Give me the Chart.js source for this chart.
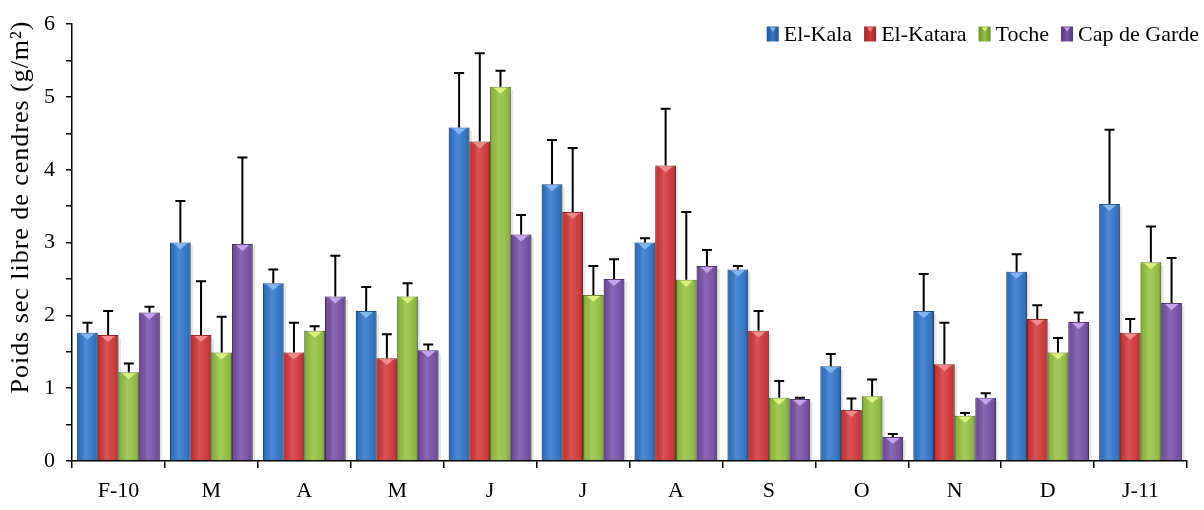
<!DOCTYPE html>
<html><head><meta charset="utf-8">
<script src="https://cdn.jsdelivr.net/npm/chart.js@4.4.1/dist/chart.umd.min.js"></script>
<style>html,body{margin:0;padding:0;background:#fff}#wrap{width:1204px;height:510px;position:relative}</style>
</head><body><div id="wrap"><canvas id="c"></canvas></div>
<script>
// ---- data ----
const categories = ['F-10','M','A','M','J','J','A','S','O','N','D','J-11'];
const seriesNames = ['El-Kala','El-Katara','Toche','Cap de Garde'];
const elKala      = [1.76,3.00,2.44,2.06,4.58,3.80,3.00,2.63,1.30,2.06,2.60,3.53];
const elKalaErr   = [0.14,0.57,0.19,0.33,0.75,0.61,0.06,0.05,0.17,0.51,0.24,1.02];
const elKatara    = [1.73,1.73,1.49,1.41,4.39,3.42,4.06,1.79,0.70,1.33,1.95,1.76];
const elKataraErr = [0.33,0.74,0.41,0.33,1.21,0.88,0.78,0.27,0.16,0.57,0.19,0.19];
const toche       = [1.22,1.49,1.79,2.26,5.14,2.28,2.49,0.87,0.89,0.62,1.49,2.73];
const tocheErr    = [0.12,0.49,0.06,0.18,0.22,0.40,0.93,0.23,0.23,0.04,0.20,0.49];
const capDeGarde    = [2.04,2.98,2.26,1.52,3.11,2.50,2.68,0.85,0.33,0.87,1.91,2.17];
const capDeGardeErr = [0.08,1.19,0.56,0.08,0.27,0.27,0.22,0.02,0.04,0.06,0.13,0.62];
const yTickLabels = [0,1,2,3,4,5,6];
const yTitle = 'Poids sec libre de cendres (g/m²)';

// ---- styles ----
const FONT = "'Liberation Serif', 'Times New Roman', serif";
const colors = ['#3479cc','#d43b3b','#95c244','#7b53aa'];
const edges  = ['#22528f','#9a2525','#6a8f2a','#553779'];
const lights = ['#86bdf5','#f59090','#e0f57e','#cda8f5'];

const values = [elKala, elKatara, toche, capDeGarde];
const errs = [elKalaErr, elKataraErr, tocheErr, capDeGardeErr];

const barStyle = {
  id: 'barStyle',
  beforeDatasetsDraw(chart) {
    const ctx = chart.ctx;
    chart.data.datasets.forEach((ds, di) => {
      chart.getDatasetMeta(di).data.forEach((el) => {
        const p = el.getProps(['x','y','base','width'], true);
        ctx.save();
        ctx.fillStyle = 'rgba(0,0,0,0.10)';
        ctx.fillRect(p.x + p.width/2, p.y + 3, 2.5, p.base - p.y - 3);
        ctx.restore();
      });
    });
  },
  afterDatasetsDraw(chart) {
    const ctx = chart.ctx;
    const yScale = chart.scales.y;
    chart.data.datasets.forEach((ds, di) => {
      const meta = chart.getDatasetMeta(di);
      meta.data.forEach((el, i) => {
        const p = el.getProps(['x','y','base','width'], true);
        const l = p.x - p.width/2, w = p.width, top = p.y, h = p.base - p.y;
        ctx.save();
        const g = ctx.createLinearGradient(l, 0, l + w, 0);
        g.addColorStop(0, 'rgba(0,0,0,0.30)');
        g.addColorStop(0.12, 'rgba(0,0,0,0.05)');
        g.addColorStop(0.40, 'rgba(255,255,255,0.12)');
        g.addColorStop(0.60, 'rgba(255,255,255,0.06)');
        g.addColorStop(0.88, 'rgba(0,0,0,0.06)');
        g.addColorStop(1, 'rgba(0,0,0,0.32)');
        ctx.fillStyle = g;
        ctx.fillRect(l, top, w, h);
        ctx.fillStyle = lights[di];
        ctx.globalAlpha = 0.9;
        ctx.beginPath();
        ctx.moveTo(p.x - w*0.33, top + 1);
        ctx.lineTo(p.x + w*0.33, top + 1);
        ctx.lineTo(p.x, top + 7);
        ctx.closePath();
        ctx.fill();
        ctx.globalAlpha = 1;
        const yTop = yScale.getPixelForValue(values[di][i] + errs[di][i]);
        ctx.strokeStyle = '#000';
        ctx.lineWidth = 2;
        ctx.beginPath();
        ctx.moveTo(p.x, top);
        ctx.lineTo(p.x, yTop);
        ctx.moveTo(p.x - 5, yTop);
        ctx.lineTo(p.x + 5, yTop);
        ctx.stroke();
        ctx.restore();
      });
    });
  }
};

const axisTitle = {
  id: 'axisTitle',
  afterDraw(chart) {
    const ctx = chart.ctx;
    ctx.save();
    ctx.font = '26px ' + FONT;
    ctx.fillStyle = '#000';
    ctx.textAlign = 'center';
    ctx.textBaseline = 'middle';
    const target = 372;
    const w = ctx.measureText(yTitle).width;
    if ('letterSpacing' in ctx && target > w) {
      ctx.letterSpacing = ((target - w) / (yTitle.length - 1)).toFixed(2) + 'px';
    }
    ctx.translate(21, 207);
    ctx.rotate(-Math.PI/2);
    ctx.fillText(yTitle, 0, 0);
    ctx.restore();
  }
};

const customLegend = {
  id: 'customLegend',
  afterDraw(chart) {
    const ctx = chart.ctx;
    ctx.save();
    ctx.font = '22px ' + FONT;
    ctx.textBaseline = 'middle';
    const boxW = 12, boxH = 15, gapBT = 5, gapItem = 12;
    const yc = 34;
    const items = chart.data.datasets.map((d, i) => ({label: d.label, i}));
    const widths = items.map(it => ctx.measureText(it.label).width);
    let total = 0;
    items.forEach((it, k) => { total += boxW + gapBT + widths[k] + (k < items.length-1 ? gapItem : 0); });
    let x = 1199 - total;
    items.forEach((it, k) => {
      const g = ctx.createLinearGradient(x, 0, x + boxW, 0);
      g.addColorStop(0, edges[it.i]);
      g.addColorStop(0.5, colors[it.i]);
      g.addColorStop(1, edges[it.i]);
      ctx.fillStyle = g;
      ctx.fillRect(x, yc - boxH/2, boxW, boxH);
      ctx.fillStyle = lights[it.i];
      ctx.beginPath();
      ctx.moveTo(x + 3, yc - boxH/2 + 1);
      ctx.lineTo(x + boxW - 3, yc - boxH/2 + 1);
      ctx.lineTo(x + boxW/2, yc - boxH/2 + 5);
      ctx.closePath();
      ctx.fill();
      x += boxW + gapBT;
      ctx.fillStyle = '#000';
      ctx.fillText(it.label, x, yc + 1);
      x += widths[k] + gapItem;
    });
    ctx.restore();
  }
};

new Chart(document.getElementById('c'), {
  type: 'bar',
  data: {
    labels: categories,
    datasets: values.map((v, i) => ({
      label: seriesNames[i],
      data: v,
      backgroundColor: colors[i],
      borderColor: edges[i],
      borderWidth: 1,
      categoryPercentage: 0.89,
      barPercentage: 1.0
    }))
  },
  options: {
    responsive: true,
    maintainAspectRatio: false,
    animation: false,
    layout: { padding: { left: 0, right: 17, top: 24, bottom: 0 } },
    plugins: { legend: { display: false }, tooltip: { enabled: false } },
    scales: {
      x: {
        offset: true,
        grid: { display: true, offset: true, drawOnChartArea: false, drawTicks: true, tickLength: 7, color: '#000', lineWidth: 1.5 },
        border: { display: true, color: '#000', width: 1.5 },
        ticks: { color: '#000', font: { family: FONT, size: 22 }, padding: 10, maxRotation: 0, autoSkip: false },
        afterFit(s) { s.height = 49; }
      },
      y: {
        min: 0, max: 6,
        grid: { display: true, drawOnChartArea: false, drawTicks: true, tickLength: 6, color: '#000', lineWidth: 1.5 },
        border: { display: true, color: '#000', width: 1.5 },
        ticks: {
          stepSize: 0.5, autoSkip: false, color: '#000', padding: 11,
          font: { family: FONT, size: 22 },
          callback: (v) => yTickLabels.includes(v) ? String(v) : ''
        },
        title: { display: false },
        afterFit(s) { s.width = 72; }
      }
    }
  },
  plugins: [barStyle, axisTitle, customLegend]
});
</script>
</body></html>
